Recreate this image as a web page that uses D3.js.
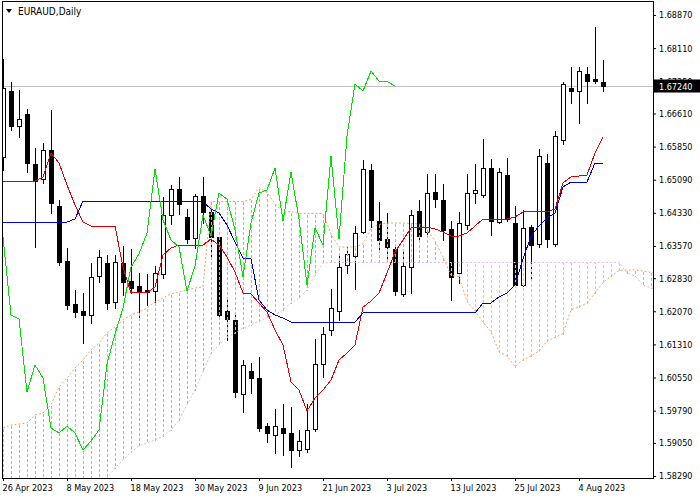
<!DOCTYPE html>
<html>
<head>
<meta charset="utf-8">
<script src="https://cdn.jsdelivr.net/npm/d3@7"></script>
<style>
  body { margin: 0; background: #fff; }
  svg text { font-family: "DejaVu Sans Condensed", "DejaVu Sans", sans-serif; }
</style>
</head>
<body>
<svg id="chart" width="700" height="500"></svg>
<script>
// EURAUD daily, 26 Apr 2023 .. 9 Aug 2023 (bar index 0..75)
var opens = [1.65611,1.67126,1.66322,1.66598,1.65450,1.65106,1.65772,1.64486,1.63224,1.62237,
  1.62077,1.61985,1.62880,1.63178,1.62283,1.63178,1.62765,1.62650,1.62559,1.62536,
  1.62926,1.64280,1.64877,1.64234,1.63752,1.64716,1.64349,1.63775,1.62077,1.61870,
  1.60172,1.60700,1.60539,1.59437,1.59231,1.59392,1.59277,1.58887,1.58910,1.59369,
  1.60860,1.61641,1.62077,1.63132,1.63339,1.63890,1.65313,1.64142,1.63729,1.63500,
  1.62467,1.63086,1.64372,1.63890,1.64808,1.64624,1.63958,1.62949,1.64050,1.64785,
  1.64739,1.65359,1.64119,1.65198,1.64096,1.62673,1.64004,1.63614,1.65473,1.63614,
  1.66001,1.67195,1.67126,1.67516,1.67390,1.67332];
var highs = [1.67883,1.67355,1.67172,1.66735,1.65840,1.65955,1.66713,1.64647,1.63546,1.62582,
  1.62513,1.63201,1.63500,1.63385,1.63385,1.63591,1.63523,1.62972,1.62949,1.63132,
  1.64716,1.64991,1.65175,1.64441,1.64785,1.65175,1.64464,1.63798,1.62421,1.62031,
  1.60975,1.60906,1.61044,1.59529,1.59851,1.59965,1.59896,1.59369,1.59965,1.61457,
  1.61732,1.62605,1.63408,1.63568,1.64050,1.65565,1.65473,1.64601,1.64349,1.63637,
  1.63477,1.64418,1.64647,1.65244,1.65244,1.65014,1.64165,1.64372,1.65244,1.65473,
  1.66047,1.65588,1.65381,1.65611,1.64509,1.64418,1.64073,1.65818,1.65703,1.66231,
  1.67355,1.67700,1.67700,1.67700,1.68617,1.67860];
var lows = [1.65313,1.66231,1.66070,1.65267,1.63546,1.65014,1.64326,1.63132,1.62122,1.61939,
  1.61342,1.61801,1.62742,1.62122,1.62145,1.62444,1.62490,1.61939,1.62214,1.62283,
  1.62834,1.64073,1.64303,1.63637,1.63523,1.64096,1.63316,1.61893,1.61411,1.60103,
  1.59759,1.60195,1.59323,1.59070,1.58818,1.58772,1.58496,1.58749,1.58841,1.59323,
  1.60562,1.61526,1.61870,1.62949,1.62582,1.63867,1.64004,1.63477,1.63293,1.62444,
  1.62421,1.62490,1.63660,1.63798,1.64464,1.63706,1.62329,1.62719,1.63958,1.64555,
  1.64693,1.63821,1.64096,1.64142,1.62627,1.62650,1.62788,1.63546,1.63546,1.63568,
  1.65909,1.66850,1.66391,1.66850,1.67309,1.67126];
var closes = [1.67195,1.66322,1.66483,1.65473,1.65060,1.65772,1.64555,1.63201,1.62214,1.62054,
  1.61985,1.62857,1.63316,1.62260,1.63201,1.62742,1.62605,1.62513,1.62513,1.62949,
  1.64280,1.64877,1.64532,1.63729,1.64716,1.64349,1.63775,1.61985,1.61893,1.60218,
  1.60837,1.60539,1.59392,1.59277,1.59437,1.59277,1.58887,1.59093,1.59346,1.60860,
  1.61549,1.62145,1.63086,1.63385,1.63867,1.65335,1.64165,1.63706,1.63546,1.62536,
  1.63109,1.64280,1.63798,1.64785,1.64647,1.63936,1.62857,1.64096,1.64785,1.64854,
  1.65359,1.64142,1.65267,1.64188,1.62673,1.63982,1.63591,1.65634,1.63729,1.66093,
  1.67286,1.67126,1.67585,1.67355,1.67350,1.67240];

// Ichimoku lines
var tenkan = [1.65060,1.65060,1.65060,1.65060,1.65060,1.65152,1.65703,1.65473,1.64968,1.64509,
  1.64119,1.64027,1.64027,1.64027,1.64027,1.63086,1.62490,1.62490,1.62490,1.62627,
  1.63362,1.63523,1.63591,1.63591,1.63591,1.63591,1.63729,1.63591,1.63316,1.62972,
  1.62490,1.62467,1.62260,1.62054,1.61641,1.61296,1.60447,1.60264,1.59782,1.60080,
  1.60264,1.60493,1.60952,1.61113,1.61296,1.62168,1.62306,1.62490,1.62949,1.63431,
  1.63706,1.63982,1.64004,1.64004,1.63958,1.63890,1.63798,1.63798,1.63867,1.64027,
  1.64188,1.64188,1.64188,1.64188,1.64234,1.64349,1.64349,1.64349,1.64349,1.64418,
  1.65014,1.65152,1.65175,1.65198,1.65703,1.66070];
var kijun = [1.64119,1.64119,1.64119,1.64119,1.64119,1.64119,1.64119,1.64119,1.64119,1.64188,
  1.64601,1.64601,1.64601,1.64601,1.64601,1.64601,1.64601,1.64601,1.64601,1.64601,
  1.64601,1.64601,1.64601,1.64601,1.64601,1.64578,1.64418,1.64326,1.64050,1.63660,
  1.63293,1.63270,1.62329,1.62100,1.61985,1.61916,1.61824,1.61824,1.61824,1.61824,
  1.61824,1.61824,1.61824,1.61824,1.61824,1.62031,1.62031,1.62031,1.62031,1.62031,
  1.62031,1.62031,1.62031,1.62031,1.62031,1.62031,1.62031,1.62031,1.62031,1.62031,
  1.62260,1.62260,1.62398,1.62490,1.62673,1.63270,1.63798,1.64027,1.64211,1.64326,
  1.64922,1.65037,1.65037,1.65037,1.65473,1.65473];
// senkou spans run 7 bars past the last candle (index 0..82)
var senkouA = [1.59392,1.59460,1.59483,1.59506,1.59690,1.59736,1.59919,1.60332,1.60539,1.60769,
  1.60952,1.61182,1.61342,1.61572,1.61710,1.61870,1.61985,1.62054,1.62145,1.62283,
  1.62375,1.62467,1.62513,1.62559,1.62605,1.62627,1.64590,1.64590,1.64590,1.64590,
  1.64590,1.64636,1.64911,1.64796,1.64544,1.64349,1.64360,1.64314,1.64314,1.64314,
  1.64314,1.63844,1.63546,1.63546,1.63546,1.63614,1.63982,1.64062,1.64096,1.64096,
  1.64096,1.64085,1.64074,1.63959,1.63683,1.63316,1.62892,1.62869,1.62295,1.62077,
  1.61813,1.61606,1.61136,1.61044,1.60803,1.60952,1.61044,1.61159,1.61388,1.61469,
  1.61560,1.62100,1.62169,1.62261,1.62490,1.62731,1.62869,1.63007,1.63018,1.63018,
  1.62995,1.62961,1.62915];
var senkouB = [1.5780,1.5780,1.5780,1.5780,1.5780,1.5780,1.5780,1.5780,1.5780,1.5780,
  1.5780,1.5780,1.5780,1.58244,1.58473,1.58657,1.58841,1.58978,1.59047,1.59116,
  1.59208,1.59346,1.59575,1.59919,1.60264,1.60677,1.61113,1.61296,1.61480,1.61572,
  1.61686,1.61755,1.61847,1.61916,1.61985,1.62100,1.62260,1.62375,1.62559,1.62903,
  1.63178,1.63190,1.63190,1.63190,1.63190,1.63190,1.63190,1.63190,1.63190,1.63190,
  1.63190,1.63190,1.63190,1.63190,1.63190,1.63190,1.63190,1.63190,1.63190,1.63190,
  1.63190,1.63190,1.63190,1.63190,1.63190,1.63190,1.63190,1.63190,1.63190,1.63190,
  1.63190,1.63190,1.63190,1.63190,1.63190,1.63190,1.63190,1.63190,1.62949,1.62880,
  1.62673,1.62605,1.62605];
var chikouShift = 26;

var priceTicks = [1.68870,1.68110,1.67350,1.66610,1.65850,1.65090,1.64330,1.63570,
  1.62830,1.62070,1.61310,1.60550,1.59790,1.59050,1.58290];
var dateTickBars = [0, 8, 16, 24, 32, 40, 48, 56, 64, 72];
var dateTickLabels = ["26 Apr 2023", "8 May 2023", "18 May 2023", "30 May 2023", "9 Jun 2023",
  "21 Jun 2023", "3 Jul 2023", "13 Jul 2023", "25 Jul 2023", "4 Aug 2023"];
var lastPrice = 1.67240;

var svg = d3.select('#chart');
var plotL = 3, plotT = 2, plotR = 653, plotB = 478;

var x = d3.scaleLinear().domain([0, 75]).range([3, 603]);
var y = d3.scaleLinear().domain([1.5829, 1.6887]).range([476, 15]);
function px(i) { return Math.round(x(i)) + 0.5; }
function py(v) { return Math.round(y(v)) + 0.5; }

svg.append('defs').append('clipPath').attr('id', 'plotclip')
  .append('rect').attr('x', plotL).attr('y', plotT)
  .attr('width', plotR - plotL).attr('height', plotB - plotT);

var plot = svg.append('g').attr('clip-path', 'url(#plotclip)');

// last price line
plot.append('line')
  .attr('x1', plotL).attr('x2', plotR)
  .attr('y1', py(lastPrice)).attr('y2', py(lastPrice))
  .attr('stroke', '#c0c0c0').attr('shape-rendering', 'crispEdges');

// candles
var candles = plot.append('g').attr('shape-rendering', 'crispEdges');
closes.forEach(function(c, i) {
  var o = opens[i];
  candles.append('line')
    .attr('x1', px(i)).attr('x2', px(i))
    .attr('y1', py(highs[i])).attr('y2', py(lows[i]))
    .attr('stroke', '#000');
  var yt = py(Math.max(o, c)), yb = py(Math.min(o, c));
  candles.append('rect')
    .attr('x', px(i) - 2).attr('width', 4)
    .attr('y', yt).attr('height', Math.max(0, yb - yt))
    .attr('fill', c >= o ? '#fff' : '#000')
    .attr('stroke', '#000');
});

// kumo histogram (drawn over the candles like the terminal does)
var kumo = plot.append('g').attr('shape-rendering', 'crispEdges');
senkouA.forEach(function(a, i) {
  var b = senkouB[i];
  kumo.append('line')
    .attr('x1', px(i)).attr('x2', px(i))
    .attr('y1', py(a)).attr('y2', py(b))
    .attr('stroke', a >= b ? '#f4a460' : '#d8bfd8')
    .attr('stroke-dasharray', '3,2');
});

function series(vals) {
  return d3.line()
    .x(function(d, i) { return x(i); })
    .y(function(d) { return y(d); })(vals);
}

plot.append('path').attr('d', series(senkouA))
  .attr('fill', 'none').attr('stroke', '#f4a460').attr('stroke-dasharray', '2,2');
plot.append('path').attr('d', series(senkouB))
  .attr('fill', 'none').attr('stroke', '#d8bfd8').attr('stroke-dasharray', '2,2');

plot.append('path').attr('d', series(tenkan))
  .attr('fill', 'none').attr('stroke', '#dd0000').attr('shape-rendering', 'crispEdges');
plot.append('path').attr('d', series(kijun))
  .attr('fill', 'none').attr('stroke', '#0000cc').attr('shape-rendering', 'crispEdges');
plot.append('path').attr('d', series(closes.slice(chikouShift)))
  .attr('fill', 'none').attr('stroke', '#00dd00').attr('shape-rendering', 'crispEdges');

// frame
svg.append('rect')
  .attr('x', 2.5).attr('y', 1.5).attr('width', plotR - 2).attr('height', plotB - 1)
  .attr('fill', 'none').attr('stroke', '#000').attr('shape-rendering', 'crispEdges');

// price axis
var yAxis = svg.append('g').attr('transform', 'translate(' + plotR + ',0)')
  .call(d3.axisRight(y).tickValues(priceTicks).tickSize(3).tickPadding(3)
    .tickFormat(d3.format('.5f')));
yAxis.select('.domain').remove();
yAxis.selectAll('text').attr('font-size', 9).attr('font-family', null).attr('fill', '#000');
yAxis.selectAll('line').attr('stroke', '#000');

// last price label
var lp = svg.append('g');
lp.append('rect').attr('x', plotR + 1).attr('y', py(lastPrice) - 7)
  .attr('width', 700 - plotR).attr('height', 13).attr('fill', '#000');
lp.append('text').attr('x', plotR + 6).attr('y', py(lastPrice)).attr('dy', '0.35em')
  .attr('font-size', 9).attr('fill', '#fff').text(d3.format('.5f')(lastPrice));

// date axis
var xAxis = svg.append('g').attr('transform', 'translate(0,' + plotB + ')')
  .call(d3.axisBottom(x).tickValues(dateTickBars).tickSize(3).tickPadding(4)
    .tickFormat(function(d, i) { return dateTickLabels[i]; }));
xAxis.select('.domain').remove();
xAxis.selectAll('text').attr('font-size', 9).attr('font-family', null)
  .attr('text-anchor', 'start').attr('x', -1).attr('fill', '#000');
xAxis.selectAll('line').attr('stroke', '#000');

// title
svg.append('path').attr('d', 'M6,9L12,9L9,13Z').attr('fill', '#000');
svg.append('text').attr('x', 18).attr('y', 15).attr('font-size', 10).text('EURAUD,Daily');
</script>
</body>
</html>
